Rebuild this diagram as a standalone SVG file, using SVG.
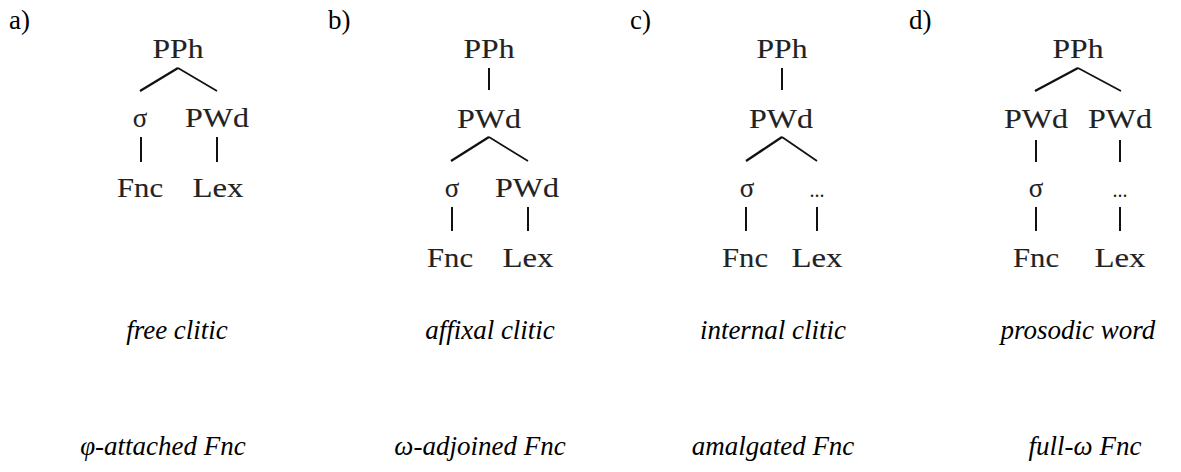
<svg xmlns="http://www.w3.org/2000/svg" width="1181" height="472" viewBox="0 0 1181 472">
  <style>
    text { font-family: "Liberation Serif", Tinos, "Times New Roman", Times, "DejaVu Serif", serif; fill: #000; }
    .lbl { font-size: 27px; }
    .nd { font-size: 27px; fill: #222; stroke: #333; stroke-width: 0.12; text-anchor: middle; }
    .dots { font-size: 20px; fill: #222; text-anchor: middle; }
    .cap { font-style: italic; font-size: 27px; text-anchor: middle; }
    .br { stroke: #111; fill: none; stroke-linecap: butt; }
    .l { stroke-width: 2.3; }
    .r { stroke-width: 1.7; }
    .v { stroke-width: 2; }
  </style>
  <rect width="1181" height="472" fill="#fff"/>

  <!-- panel labels -->
  <text class="lbl" x="9" y="29">a)</text>
  <text class="lbl" x="328" y="29">b)</text>
  <text class="lbl" x="630" y="29">c)</text>
  <text class="lbl" x="909" y="29">d)</text>

  <!-- tree branches -->
  <g id="connectors" class="br">
    <!-- a -->
    <line class="l" x1="140" y1="91" x2="178" y2="68"/>
    <line class="r" x1="178" y1="68" x2="217" y2="91"/>
    <line class="v" x1="141" y1="137" x2="141" y2="162"/>
    <line class="v" x1="217" y1="137" x2="217" y2="162"/>
    <!-- b -->
    <line class="v" x1="489" y1="68" x2="489" y2="90"/>
    <line class="l" x1="451" y1="161" x2="489" y2="137"/>
    <line class="r" x1="489" y1="137" x2="528" y2="161"/>
    <line class="v" x1="452" y1="207" x2="452" y2="231"/>
    <line class="v" x1="528" y1="207" x2="528" y2="231"/>
    <!-- c -->
    <line class="v" x1="782" y1="68" x2="782" y2="90"/>
    <line class="l" x1="746" y1="161" x2="782" y2="137"/>
    <line class="r" x1="782" y1="137" x2="817" y2="161"/>
    <line class="v" x1="746" y1="207" x2="746" y2="231"/>
    <line class="v" x1="817" y1="207" x2="817" y2="231"/>
    <!-- d -->
    <line class="l" x1="1035" y1="91" x2="1078" y2="68"/>
    <line class="r" x1="1078" y1="68" x2="1121" y2="91"/>
    <line class="v" x1="1036" y1="140" x2="1036" y2="162"/>
    <line class="v" x1="1120" y1="140" x2="1120" y2="162"/>
    <line class="v" x1="1036" y1="207" x2="1036" y2="231"/>
    <line class="v" x1="1120" y1="207" x2="1120" y2="231"/>
  </g>

  <!-- a) free clitic -->
  <g id="tree-a">
    <text class="nd" x="178" y="58" textLength="51" lengthAdjust="spacingAndGlyphs">PPh</text>
    <text class="nd" x="140" y="127">σ</text>
    <text class="nd" x="217" y="127" textLength="64" lengthAdjust="spacingAndGlyphs">PWd</text>
    <text class="nd" x="140" y="197" textLength="46" lengthAdjust="spacingAndGlyphs">Fnc</text>
    <text class="nd" x="218" y="197" textLength="51" lengthAdjust="spacingAndGlyphs">Lex</text>
  </g>

  <!-- b) affixal clitic -->
  <g id="tree-b">
    <text class="nd" x="489" y="58" textLength="51" lengthAdjust="spacingAndGlyphs">PPh</text>
    <text class="nd" x="489" y="128" textLength="64" lengthAdjust="spacingAndGlyphs">PWd</text>
    <text class="nd" x="452" y="197">σ</text>
    <text class="nd" x="527" y="197" textLength="64" lengthAdjust="spacingAndGlyphs">PWd</text>
    <text class="nd" x="450" y="267" textLength="46" lengthAdjust="spacingAndGlyphs">Fnc</text>
    <text class="nd" x="528" y="267" textLength="51" lengthAdjust="spacingAndGlyphs">Lex</text>
  </g>

  <!-- c) internal clitic -->
  <g id="tree-c">
    <text class="nd" x="782" y="58" textLength="51" lengthAdjust="spacingAndGlyphs">PPh</text>
    <text class="nd" x="781" y="128" textLength="64" lengthAdjust="spacingAndGlyphs">PWd</text>
    <text class="nd" x="747" y="197">σ</text>
    <text class="dots" x="817" y="197">...</text>
    <text class="nd" x="745" y="267" textLength="46" lengthAdjust="spacingAndGlyphs">Fnc</text>
    <text class="nd" x="817" y="267" textLength="51" lengthAdjust="spacingAndGlyphs">Lex</text>
  </g>

  <!-- d) prosodic word -->
  <g id="tree-d">
    <text class="nd" x="1078" y="58" textLength="51" lengthAdjust="spacingAndGlyphs">PPh</text>
    <text class="nd" x="1036" y="128" textLength="64" lengthAdjust="spacingAndGlyphs">PWd</text>
    <text class="nd" x="1120" y="128" textLength="64" lengthAdjust="spacingAndGlyphs">PWd</text>
    <text class="nd" x="1036" y="197">σ</text>
    <text class="dots" x="1120" y="197">...</text>
    <text class="nd" x="1036" y="267" textLength="46" lengthAdjust="spacingAndGlyphs">Fnc</text>
    <text class="nd" x="1120" y="267" textLength="51" lengthAdjust="spacingAndGlyphs">Lex</text>
  </g>

  <!-- captions -->
  <g id="captions">
    <text class="cap" x="177" y="339">free clitic</text>
    <text class="cap" x="490" y="339">affixal clitic</text>
    <text class="cap" x="773" y="339">internal clitic</text>
    <text class="cap" x="1078" y="339">prosodic word</text>
    <text class="cap" x="163" y="455">φ-attached Fnc</text>
    <text class="cap" x="480" y="455">ω-adjoined Fnc</text>
    <text class="cap" x="773" y="455">amalgated Fnc</text>
    <text class="cap" x="1085" y="455">full-ω Fnc</text>
  </g>
</svg>
